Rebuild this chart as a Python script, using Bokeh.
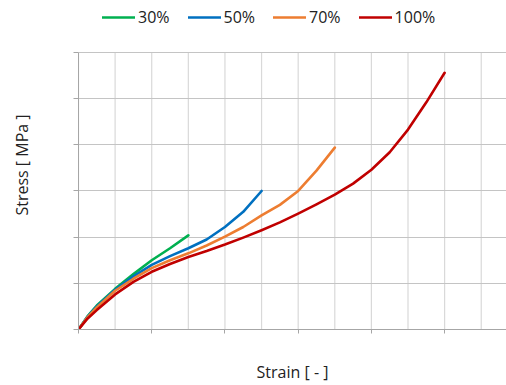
from bokeh.plotting import figure
from bokeh.models import Range1d, SingleIntervalTicker, FixedTicker, Legend, LegendItem, CustomJSTickFormatter
from bokeh.embed import file_html
from bokeh.resources import INLINE

# ---- data ----
strain_30 = [0, 0.025, 0.05, 0.1, 0.15, 0.2, 0.25, 0.3]
stress_30 = [0, 0.29, 0.52, 0.88, 1.20, 1.50, 1.76, 2.04]

strain_50 = [0, 0.025, 0.05, 0.1, 0.15, 0.2, 0.25, 0.3, 0.35, 0.4, 0.45, 0.5]
stress_50 = [0, 0.28, 0.50, 0.86, 1.15, 1.40, 1.59, 1.76, 1.95, 2.22, 2.55, 3.0]

strain_70 = [0, 0.025, 0.05, 0.1, 0.15, 0.2, 0.25, 0.3, 0.35, 0.4, 0.45, 0.5, 0.55, 0.6, 0.65, 0.7]
stress_70 = [0, 0.27, 0.48, 0.84, 1.10, 1.33, 1.50, 1.65, 1.82, 2.01, 2.22, 2.47, 2.70, 3.0, 3.44, 3.94]

strain_100 = [0, 0.025, 0.05, 0.1, 0.15, 0.2, 0.25, 0.3, 0.35, 0.4, 0.45, 0.5, 0.55,
              0.6, 0.65, 0.7, 0.75, 0.8, 0.85, 0.9, 0.95, 1.0]
stress_100 = [0, 0.24, 0.42, 0.76, 1.03, 1.25, 1.42, 1.57, 1.70, 1.84, 1.99, 2.15, 2.32,
              2.51, 2.71, 2.92, 3.16, 3.46, 3.84, 4.33, 4.92, 5.56]

series_labels = ["30%", "50%", "70%", "100%"]
series_colors = ["#00B050", "#0070C0", "#ED7D31", "#C00000"]

# axis layout: stress 0..6 (no tick labels), strain gridlines every 0.1
stress_ticks = [0, 1, 2, 3, 4, 5, 6]
strain_grid = [round(0.1 * i, 1) for i in range(12)]

FONT = "Open Sans"

p = figure(width=506, height=385, output_backend="svg", toolbar_location=None,
           x_range=Range1d(0, 1.169), y_range=Range1d(0, 7.126),
           min_border_left=78, min_border_right=0, min_border_top=0, min_border_bottom=56)
p.outline_line_color = None

# vertical gridlines limited to the stress span 0..6
p.segment(x0=strain_grid, y0=[stress_ticks[0]] * len(strain_grid),
          x1=strain_grid, y1=[stress_ticks[-1]] * len(strain_grid),
          line_color="#d9d9d9", line_width=1.2, level="underlay")

renderers = []
for xs, ys, c in zip([strain_30, strain_50, strain_70, strain_100],
                     [stress_30, stress_50, stress_70, stress_100], series_colors):
    r = p.line(xs, ys, line_color=c, line_width=2.6, line_join="round", line_cap="round")
    renderers.append(r)

blank = CustomJSTickFormatter(code="return ''")

# x axis
p.xaxis.ticker = SingleIntervalTicker(interval=0.2, num_minor_ticks=2)
p.xaxis.formatter = blank
p.xaxis.major_label_standoff = 0
p.xaxis.major_tick_in = 0
p.xaxis.major_tick_out = 4
p.xaxis.minor_tick_in = 0
p.xaxis.minor_tick_out = 0
p.xaxis.axis_line_color = "#a6a6a6"
p.xaxis.major_tick_line_color = "#a6a6a6"
p.xaxis.axis_label = "Strain [ - ]"
p.xaxis.axis_label_text_font = FONT
p.xaxis.axis_label_text_font_style = "normal"
p.xaxis.axis_label_text_font_size = "16px"
p.xaxis.axis_label_text_color = "#222222"
p.xaxis.axis_label_standoff = 27

# y axis
p.yaxis.ticker = FixedTicker(ticks=stress_ticks)
p.yaxis.bounds = (stress_ticks[0], stress_ticks[-1])
p.yaxis.formatter = blank
p.yaxis.major_label_standoff = 0
p.yaxis.major_tick_in = 0
p.yaxis.major_tick_out = 5
p.yaxis.minor_tick_line_color = None
p.yaxis.axis_line_color = "#a6a6a6"
p.yaxis.major_tick_line_color = "#a6a6a6"
p.yaxis.axis_label = "Stress [ MPa ]"
p.yaxis.axis_label_text_font = FONT
p.yaxis.axis_label_text_font_style = "normal"
p.yaxis.axis_label_text_font_size = "16px"
p.yaxis.axis_label_text_color = "#222222"
p.yaxis.axis_label_standoff = 41

# grids
p.xgrid.grid_line_color = None
p.ygrid.ticker = FixedTicker(ticks=stress_ticks)
p.ygrid.grid_line_color = "#c4c4c4"
p.ygrid.grid_line_width = 1.2

legend = Legend(items=[LegendItem(label=l, renderers=[r]) for l, r in zip(series_labels, renderers)],
                orientation="horizontal", location=(24, 301),
                border_line_color=None, background_fill_alpha=0,
                label_text_font=FONT, label_text_font_size="16px", label_text_color="#222222",
                glyph_width=33, glyph_height=20, label_height=20, label_standoff=3,
                spacing=18, padding=0, margin=0)
p.add_layout(legend)

open("out.html", "w").write(file_html(p, INLINE))
